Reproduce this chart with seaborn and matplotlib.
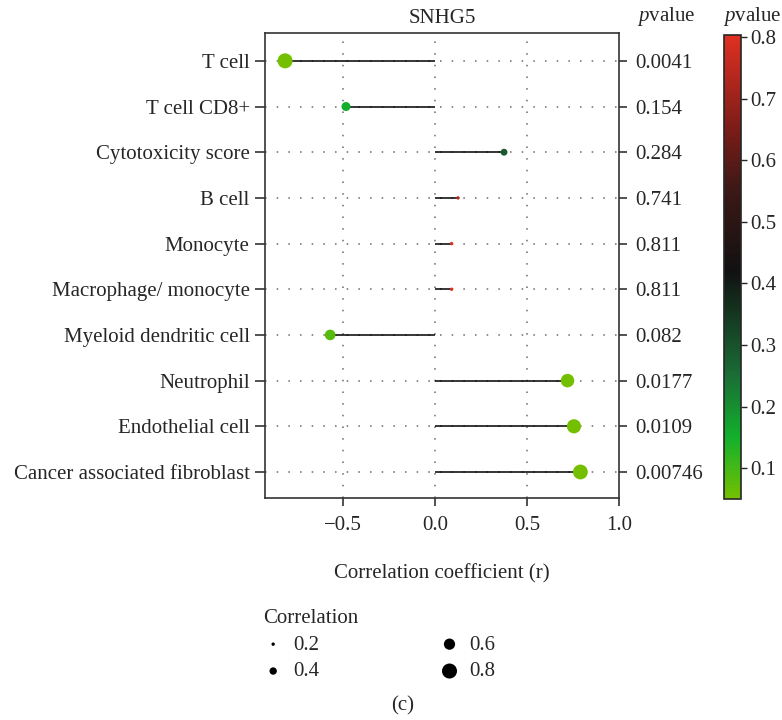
import matplotlib
matplotlib.use("Agg")
import matplotlib.pyplot as plt
import seaborn as sns
import pandas as pd
import numpy as np
from matplotlib.colors import LinearSegmentedColormap, Normalize
from matplotlib.cm import ScalarMappable

cells = ["T cell", "T cell CD8+", "Cytotoxicity score", "B cell", "Monocyte",
         "Macrophage/ monocyte", "Myeloid dendritic cell", "Neutrophil",
         "Endothelial cell", "Cancer associated fibroblast"]
r_values = [-0.815, -0.484, 0.375, 0.125, 0.09, 0.09, -0.57, 0.72, 0.755, 0.79]
p_values = [0.0041, 0.154, 0.284, 0.741, 0.811, 0.811, 0.082, 0.0177, 0.0109, 0.00746]
p_labels = ["0.0041", "0.154", "0.284", "0.741", "0.811", "0.811", "0.082",
            "0.0177", "0.0109", "0.00746"]
legend_levels = [0.2, 0.4, 0.6, 0.8]

df = pd.DataFrame({"cell": cells, "r": r_values, "p": p_values})
df["r2"] = df["r"] ** 2
df["y"] = np.arange(len(cells))

sns.set_style("white")
plt.rcParams["font.family"] = ["Liberation Serif", "DejaVu Serif"]
plt.rcParams["mathtext.fontset"] = "custom"
plt.rcParams["mathtext.rm"] = "Liberation Serif"
plt.rcParams["mathtext.it"] = "Liberation Serif:italic"
FS = 15

# p-value colour scale: lime -> green -> black -> red
cmap = LinearSegmentedColormap.from_list(
    "pv", [(0.0, "#74c000"), (0.133, "#12b02c"), (0.267, "#1b6c36"),
           (0.49, "#111111"), (0.667, "#3c1816"), (0.8, "#7c1c18"),
           (1.0, "#e03022")])
norm = Normalize(0.05, 0.803)
sizes = (6, 117)
size_norm = (0.04, 0.64)

def size_of(v):
    t = (v ** 2 - size_norm[0]) / (size_norm[1] - size_norm[0])
    return sizes[0] + t * (sizes[1] - sizes[0])

fig = plt.figure(figsize=(7.82, 7.2), dpi=100)
ax = fig.add_axes([0.3389, 0.3083, 0.4527, 0.6459])

for y in df["y"]:
    ax.axhline(y, color="#8a8a8a", lw=1.4, ls=(0, (0.8, 5.2)), zorder=0)
for x in [-0.5, 0.0, 0.5]:
    ax.axvline(x, color="#8a8a8a", lw=1.4, ls=(0, (0.8, 5.2)), zorder=0)

ax.hlines(df["y"], 0, df["r"], color="black", lw=1.1, zorder=2)
sns.scatterplot(data=df, x="r", y="y", hue="p", size="r2", palette=cmap,
                hue_norm=norm, sizes=sizes, size_norm=size_norm,
                edgecolor="none", legend=False, ax=ax, zorder=3)

ax.set_xlim(-0.924, 1.0)
ax.set_ylim(9.57, -0.61)
ax.set_yticks(df["y"])
ax.set_yticklabels(cells, fontsize=FS)
ax.set_xticks([-0.5, 0.0, 0.5, 1.0])
ax.set_xticklabels(["\u22120.5", "0.0", "0.5", "1.0"], fontsize=FS)
ax.tick_params(axis="y", left=True, length=7, width=1.2, color="#333333", pad=4)
ax.tick_params(axis="x", bottom=True, length=6, width=1.2, color="#333333", pad=7)
ax.set_xlabel("Correlation coefficient (r)", fontsize=FS, labelpad=21)
ax.set_ylabel("")
ax.set_title("SNHG5", fontsize=FS, pad=7)

for s in ax.spines.values():
    s.set_color("#333333")
    s.set_linewidth(1.2)

ax2 = ax.twinx()
ax2.set_ylim(ax.get_ylim())
ax2.set_yticks(df["y"])
ax2.set_yticklabels(p_labels, fontsize=FS)
ax2.tick_params(axis="y", left=False, right=True, length=6, width=1.2,
                color="#333333", pad=6)
for s in ax2.spines.values():
    s.set_visible(False)
fig.text(637 / 782, 1 - 17 / 720, "$\\it{p}$value", fontsize=FS,
         ha="left", va="center")

cax = fig.add_axes([0.9258, 0.3069, 0.0217, 0.6444])
cb = fig.colorbar(ScalarMappable(norm=norm, cmap=cmap), cax=cax)
cb.set_ticks([0.1, 0.2, 0.3, 0.4, 0.5, 0.6, 0.7, 0.8])
cb.ax.tick_params(labelsize=FS, length=4, width=1, pad=3)
cb.outline.set_linewidth(1.2)
fig.text(723 / 782, 1 - 17 / 720, "$\\it{p}$value", fontsize=FS,
         ha="left", va="center")

handles = [ax.scatter([], [], s=size_of(v), color="black", edgecolor="none")
           for v in legend_levels]
leg = fig.legend(handles, [f"{v:.1f}" for v in legend_levels], ncol=2,
                 title="Correlation", loc="upper left",
                 bbox_to_anchor=(244 / 782, 1 - 590 / 720), frameon=False,
                 fontsize=FS, title_fontsize=FS, columnspacing=5.75,
                 handlelength=1.0, handletextpad=0.46, labelspacing=0.35)
leg._legend_box.align = "left"

fig.text(0.515, 1 - 706 / 720, "(c)", ha="center", va="center", fontsize=FS)

plt.savefig("out.png", dpi=100)
